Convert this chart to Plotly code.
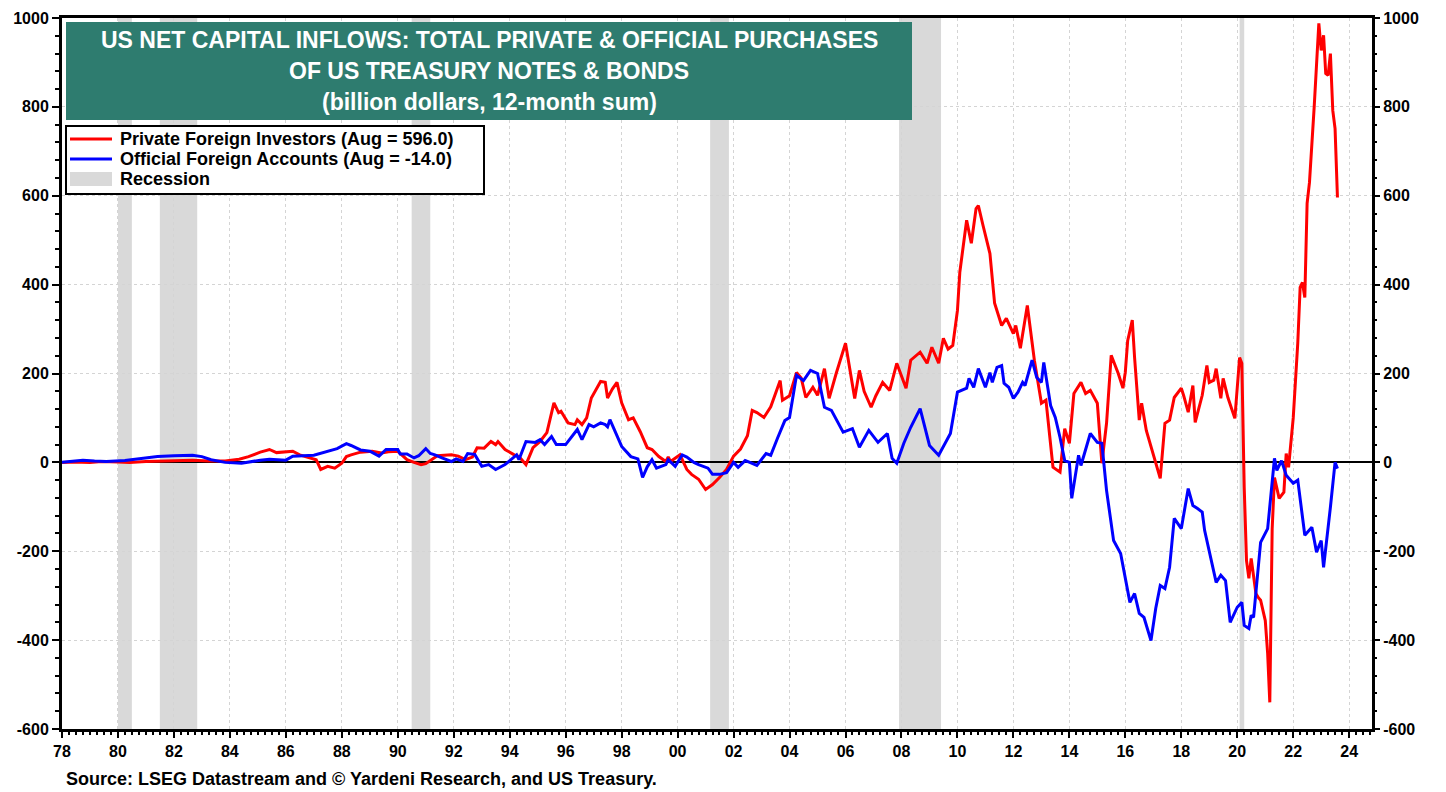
import plotly.graph_objects as go

# Private foreign investors, 12-month sum (billion $)
red_dates = ["1978-01", "1978-06", "1979-01", "1979-06", "1980-01", "1980-06", "1981-01", "1981-06",
             "1982-01", "1982-09", "1983-04", "1983-11", "1984-05", "1984-09", "1985-02", "1985-06",
             "1985-09", "1986-01", "1986-04", "1986-07", "1986-11", "1987-02", "1987-04", "1987-07",
             "1987-10", "1988-01", "1988-03", "1988-05", "1988-09", "1989-02", "1989-06", "1989-09",
             "1990-01", "1990-05", "1990-08", "1990-11", "1991-01", "1991-04", "1991-06", "1991-12",
             "1992-03", "1992-06", "1992-09", "1992-11", "1993-02", "1993-05", "1993-07", "1993-08",
             "1993-11", "1994-03", "1994-05", "1994-08", "1994-11", "1995-02", "1995-05", "1995-08",
             "1995-10", "1995-11", "1996-02", "1996-05", "1996-06", "1996-08", "1996-10", "1996-12",
             "1997-02", "1997-04", "1997-06", "1997-07", "1997-09", "1997-11", "1998-01", "1998-04",
             "1998-06", "1998-09", "1998-12", "1999-02", "1999-05", "1999-08", "1999-09", "1999-10",
             "2000-02", "2000-05", "2000-07", "2000-10", "2001-01", "2001-04", "2001-07", "2001-10",
             "2002-01", "2002-04", "2002-07", "2002-09", "2002-11", "2003-02", "2003-05", "2003-09",
             "2003-10", "2004-01", "2004-04", "2004-06", "2004-08", "2004-11", "2005-01", "2005-04",
             "2005-06", "2005-09", "2006-01", "2006-05", "2006-07", "2006-09", "2006-12", "2007-02",
             "2007-05", "2007-08", "2007-11", "2008-03", "2008-05", "2008-07", "2008-09", "2008-12",
             "2009-02", "2009-05", "2009-07", "2009-09", "2009-11", "2010-01", "2010-02", "2010-05",
             "2010-07", "2010-09", "2010-10", "2010-12", "2011-03", "2011-05", "2011-08", "2011-10",
             "2012-01", "2012-02", "2012-04", "2012-07", "2012-10", "2013-01", "2013-03", "2013-06",
             "2013-09", "2013-11", "2014-01", "2014-03", "2014-06", "2014-08", "2014-10", "2015-01",
             "2015-03", "2015-05", "2015-07", "2015-10", "2015-12", "2016-01", "2016-02", "2016-04",
             "2016-05", "2016-07", "2016-08", "2016-10", "2017-01", "2017-04", "2017-06", "2017-08",
             "2017-10", "2018-01", "2018-02", "2018-04", "2018-06", "2018-07", "2018-10", "2018-12",
             "2019-01", "2019-03", "2019-04", "2019-06", "2019-07", "2019-09", "2019-12", "2020-02",
             "2020-03", "2020-04", "2020-05", "2020-06", "2020-07", "2020-09", "2020-10", "2020-11",
             "2021-01", "2021-02", "2021-03", "2021-04", "2021-05", "2021-07", "2021-09", "2021-10",
             "2021-11", "2022-01", "2022-03", "2022-04", "2022-05", "2022-06", "2022-07", "2022-08",
             "2022-10", "2022-12", "2023-01", "2023-02", "2023-03", "2023-04", "2023-05", "2023-06",
             "2023-07", "2023-08"]
red_vals = [0, 1, 0, 2, 1, 0, 2, 3,
            4, 5, 3, 3, 7, 13, 23, 29,
            22, 24, 25, 17, 10, 6, -16, -9,
            -13, -2, 13, 17, 23, 25, 21, 24,
            25, 6, 0, -5, -3, 8, 15, 17,
            14, 6, 12, 33, 32, 47, 40, 47,
            29, 17, 13, -5, 33, 47, 67, 134,
            112, 115, 89, 85, 96, 85, 100, 145,
            164, 182, 180, 145, 165, 180, 134, 96,
            100, 69, 33, 29, 13, 2, 12, 2,
            17, -16, -27, -38, -61, -50, -34, -16,
            14, 30, 60, 117, 112, 101, 125, 184,
            140, 150, 202, 190, 146, 169, 151, 211,
            144, 200, 268, 144, 207, 160, 124, 150,
            180, 162, 223, 167, 230, 240, 248, 223,
            259, 223, 279, 255, 263, 342, 428, 545,
            493, 571, 578, 533, 470, 358, 308, 324,
            290, 308, 257, 353, 230, 133, 140, -11,
            -22, 76, 43, 155, 180, 155, 162, 133,
            -2, 88, 241, 200, 167, 203, 274, 320,
            236, 95, 133, 72, 20, -36, 88, 95,
            146, 167, 150, 113, 173, 90, 151, 218,
            180, 185, 211, 144, 189, 146, 99, 236,
            223, -56, -221, -261, -216, -295, -304, -310,
            -356, -430, -540, -150, -34, -81, -67, 20,
            -11, 100, 268, 394, 405, 371, 583, 630,
            799, 988, 927, 961, 875, 871, 920, 792,
            751, 596]

# Official foreign accounts, 12-month sum (billion $)
blue_dates = ["1978-01", "1978-06", "1978-10", "1979-03", "1979-08", "1980-04", "1981-01", "1981-06",
              "1982-01", "1982-09", "1983-01", "1983-05", "1983-11", "1984-06", "1985-02", "1985-06",
              "1986-01", "1986-04", "1987-01", "1987-06", "1987-11", "1988-03", "1988-05", "1988-09",
              "1989-01", "1989-05", "1989-08", "1990-01", "1990-02", "1990-05", "1990-08", "1990-10",
              "1991-01", "1991-03", "1991-05", "1991-08", "1991-12", "1992-02", "1992-05", "1992-07",
              "1992-10", "1993-01", "1993-04", "1993-07", "1993-11", "1994-04", "1994-05", "1994-08",
              "1994-12", "1995-02", "1995-04", "1995-07", "1995-09", "1996-01", "1996-04", "1996-06",
              "1996-08", "1996-11", "1997-01", "1997-04", "1997-06", "1997-07", "1997-08", "1997-11",
              "1998-01", "1998-05", "1998-08", "1998-10", "1998-12", "1999-02", "1999-04", "1999-08",
              "1999-09", "1999-12", "2000-03", "2000-05", "2000-08", "2000-10", "2001-02", "2001-04",
              "2001-07", "2001-10", "2002-01", "2002-03", "2002-06", "2002-08", "2002-11", "2003-03",
              "2003-05", "2003-08", "2003-11", "2004-01", "2004-04", "2004-07", "2004-10", "2005-01",
              "2005-04", "2005-07", "2005-12", "2006-04", "2006-07", "2006-11", "2007-03", "2007-07",
              "2007-09", "2007-11", "2008-02", "2008-05", "2008-09", "2009-01", "2009-05", "2009-10",
              "2010-01", "2010-05", "2010-06", "2010-08", "2010-10", "2011-01", "2011-03", "2011-04",
              "2011-06", "2011-08", "2011-09", "2011-11", "2012-01", "2012-03", "2012-05", "2012-06",
              "2012-09", "2012-11", "2013-01", "2013-02", "2013-05", "2013-07", "2013-09", "2013-11",
              "2014-01", "2014-02", "2014-05", "2014-06", "2014-10", "2015-01", "2015-03", "2015-05",
              "2015-08", "2015-11", "2016-03", "2016-05", "2016-07", "2016-09", "2016-12", "2017-02",
              "2017-04", "2017-06", "2017-08", "2017-10", "2018-01", "2018-04", "2018-06", "2018-08",
              "2018-10", "2018-11", "2019-01", "2019-04", "2019-06", "2019-08", "2019-10", "2020-01",
              "2020-03", "2020-04", "2020-06", "2020-07", "2020-08", "2020-11", "2021-02", "2021-04",
              "2021-05", "2021-06", "2021-08", "2021-10", "2022-01", "2022-03", "2022-05", "2022-06",
              "2022-09", "2022-11", "2023-01", "2023-02", "2023-05", "2023-07", "2023-08"]
blue_vals = [0, 2, 5, 3, 2, 4, 10, 13,
             15, 16, 13, 6, 0, -2, 5, 7,
             5, 14, 16, 24, 31, 42, 38, 28,
             25, 14, 29, 29, 19, 19, 10, 15,
             31, 20, 17, 10, 2, 8, 2, 20,
             18, -9, -5, -16, -5, 17, 6, 47,
             45, 51, 40, 58, 40, 40, 62, 74,
             51, 85, 80, 89, 85, 80, 96, 58,
             36, 13, 8, -34, -10, 6, -13, -5,
             6, -9, 17, 12, 0, -5, -13, -27,
             -27, -23, 0, -11, 4, 0, -7, 20,
             16, 56, 94, 101, 196, 184, 207, 200,
             124, 117, 68, 76, 34, 72, 45, 65,
             9, -2, 43, 79, 121, 38, 16, 65,
             158, 167, 189, 169, 211, 169, 202, 180,
             214, 218, 178, 169, 144, 158, 180, 173,
             230, 191, 180, 225, 128, 101, 56, 4,
             0, -81, 16, -7, 65, 45, 43, -63,
             -176, -205, -315, -295, -340, -349, -401, -329,
             -277, -284, -236, -126, -149, -59, -97, -104,
             -112, -153, -198, -270, -254, -266, -360, -326,
             -315, -367, -374, -344, -349, -180, -149, -40,
             9, -18, 4, -29, -47, -40, -130, -164,
             -146, -202, -176, -236, -101, 0, -14]

rec_start = ["1980-01-01", "1981-07-01", "1990-07-01", "2001-03-01", "2007-12-01", "2020-02-01"]
rec_end = ["1980-07-01", "1982-11-01", "1991-03-01", "2001-11-01", "2009-06-01", "2020-04-01"]

tick_years = list(range(1978, 2025, 2))
tick_vals = [f"{y}-01-01" for y in tick_years]
tick_text = [str(y)[2:] for y in tick_years]
y_ticks = list(range(-600, 1001, 200))
y_text = [str(v) for v in y_ticks]

title_lines = ["US NET CAPITAL INFLOWS: TOTAL PRIVATE & OFFICIAL PURCHASES",
               "OF US TREASURY NOTES & BONDS",
               "(billion dollars, 12-month sum)"]
legend_names = ["Private Foreign Investors (Aug = 596.0)",
                "Official Foreign Accounts (Aug = -14.0)",
                "Recession"]
source_text = "Source: LSEG Datastream and © Yardeni Research, and US Treasury."

FONT = "Liberation Sans, Arial, sans-serif"
RED, BLUE, GREY = "#ff0000", "#0000ff", "#d9d9d9"

# page body adds an 8px margin, so the figure is sized to fit inside it
W, H = 1438, 784
L, R, T, B = 54, 74, 10, 63
PW, PH = W - L - R, H - T - B


def px(x):  # screen x (reference pixels) -> paper
    return (x - 8 - L) / PW


def py(y):  # screen y (reference pixels) -> paper
    return (H - B + 8 - y) / PH


fig = go.Figure()
fig.add_trace(go.Scatter(x=red_dates, y=red_vals, mode="lines",
                         line=dict(color=RED, width=3), name=legend_names[0]))
fig.add_trace(go.Scatter(x=blue_dates, y=blue_vals, mode="lines",
                         line=dict(color=BLUE, width=3), name=legend_names[1]))
# keeps the right-hand axis drawn
fig.add_trace(go.Scatter(x=[None], y=[None], yaxis="y2", showlegend=False))

for a, b in zip(rec_start, rec_end):
    fig.add_shape(type="rect", xref="x", yref="paper", x0=a, x1=b, y0=0, y1=1,
                  fillcolor=GREY, line=dict(width=0), layer="below")

# title box
fig.add_shape(type="rect", xref="paper", yref="paper", x0=px(66), x1=px(912), y0=py(120), y1=py(22),
              fillcolor="#2e7c6f", line=dict(width=0), layer="above")
for txt, yy in zip(title_lines, [40, 71, 102]):
    fig.add_annotation(text=txt, xref="paper", yref="paper", x=px(489), y=py(yy),
                       xanchor="center", yanchor="middle", showarrow=False,
                       font=dict(family=FONT, size=23, color="white", weight="bold"))

# legend box
fig.add_shape(type="rect", xref="paper", yref="paper", x0=px(66), x1=px(484), y0=py(194), y1=py(126),
              fillcolor="white", line=dict(color="black", width=2), layer="above")
for name, col, yy in zip(legend_names, [RED, BLUE, GREY], [139, 159, 179]):
    if col == GREY:
        fig.add_shape(type="rect", xref="paper", yref="paper", x0=px(70), x1=px(112),
                      y0=py(yy + 7), y1=py(yy - 7), fillcolor=GREY, line=dict(width=0), layer="above")
    else:
        fig.add_shape(type="line", xref="paper", yref="paper", x0=px(70), x1=px(112),
                      y0=py(yy), y1=py(yy), line=dict(color=col, width=3), layer="above")
    fig.add_annotation(text=name, xref="paper", yref="paper", x=px(118), y=py(yy),
                       xanchor="left", yanchor="middle", showarrow=False,
                       font=dict(family=FONT, size=18, color="black", weight="bold"))

fig.add_annotation(text=source_text, xref="paper", yref="paper", x=px(64), y=py(779),
                   xanchor="left", yanchor="middle", showarrow=False,
                   font=dict(family=FONT, size=18, color="black", weight="bold"))

tickfont = dict(family=FONT, size=16, color="black", weight="bold")
fig.update_layout(
    width=W, height=H,
    margin=dict(l=L, r=R, t=T, b=B, autoexpand=False),
    plot_bgcolor="white", paper_bgcolor="white",
    showlegend=False,
    xaxis=dict(type="date", range=["1978-01-01", "2024-10-25"], automargin=False,
               tickvals=tick_vals, ticktext=tick_text, tickfont=tickfont,
               ticks="outside", ticklen=6, tickwidth=2, tickcolor="black",
               showline=True, linewidth=3, linecolor="black", mirror=True,
               showgrid=True, gridcolor="#d4d4d4", griddash="dot", gridwidth=1,
               minor=dict(dtick="M3", ticks="outside", ticklen=3, tickcolor="black", showgrid=False)),
    yaxis=dict(range=[-600, 1000], automargin=False, tickvals=y_ticks, ticktext=y_text, tickfont=tickfont,
               ticks="outside", ticklen=7, tickwidth=2, tickcolor="black",
               showline=True, linewidth=3, linecolor="black", mirror=True,
               showgrid=True, gridcolor="#d4d4d4", griddash="dot", gridwidth=1,
               zeroline=True, zerolinecolor="black", zerolinewidth=2,
               minor=dict(dtick=40, ticks="outside", ticklen=4, tickcolor="black", showgrid=False)),
    yaxis2=dict(range=[-600, 1000], automargin=False, tickvals=y_ticks, ticktext=y_text, tickfont=tickfont,
                overlaying="y", side="right",
                ticks="outside", ticklen=7, tickwidth=2, tickcolor="black",
                showline=False, showgrid=False, zeroline=False,
                minor=dict(dtick=40, ticks="outside", ticklen=4, tickcolor="black")),
)

fig.write_html("out.html")
